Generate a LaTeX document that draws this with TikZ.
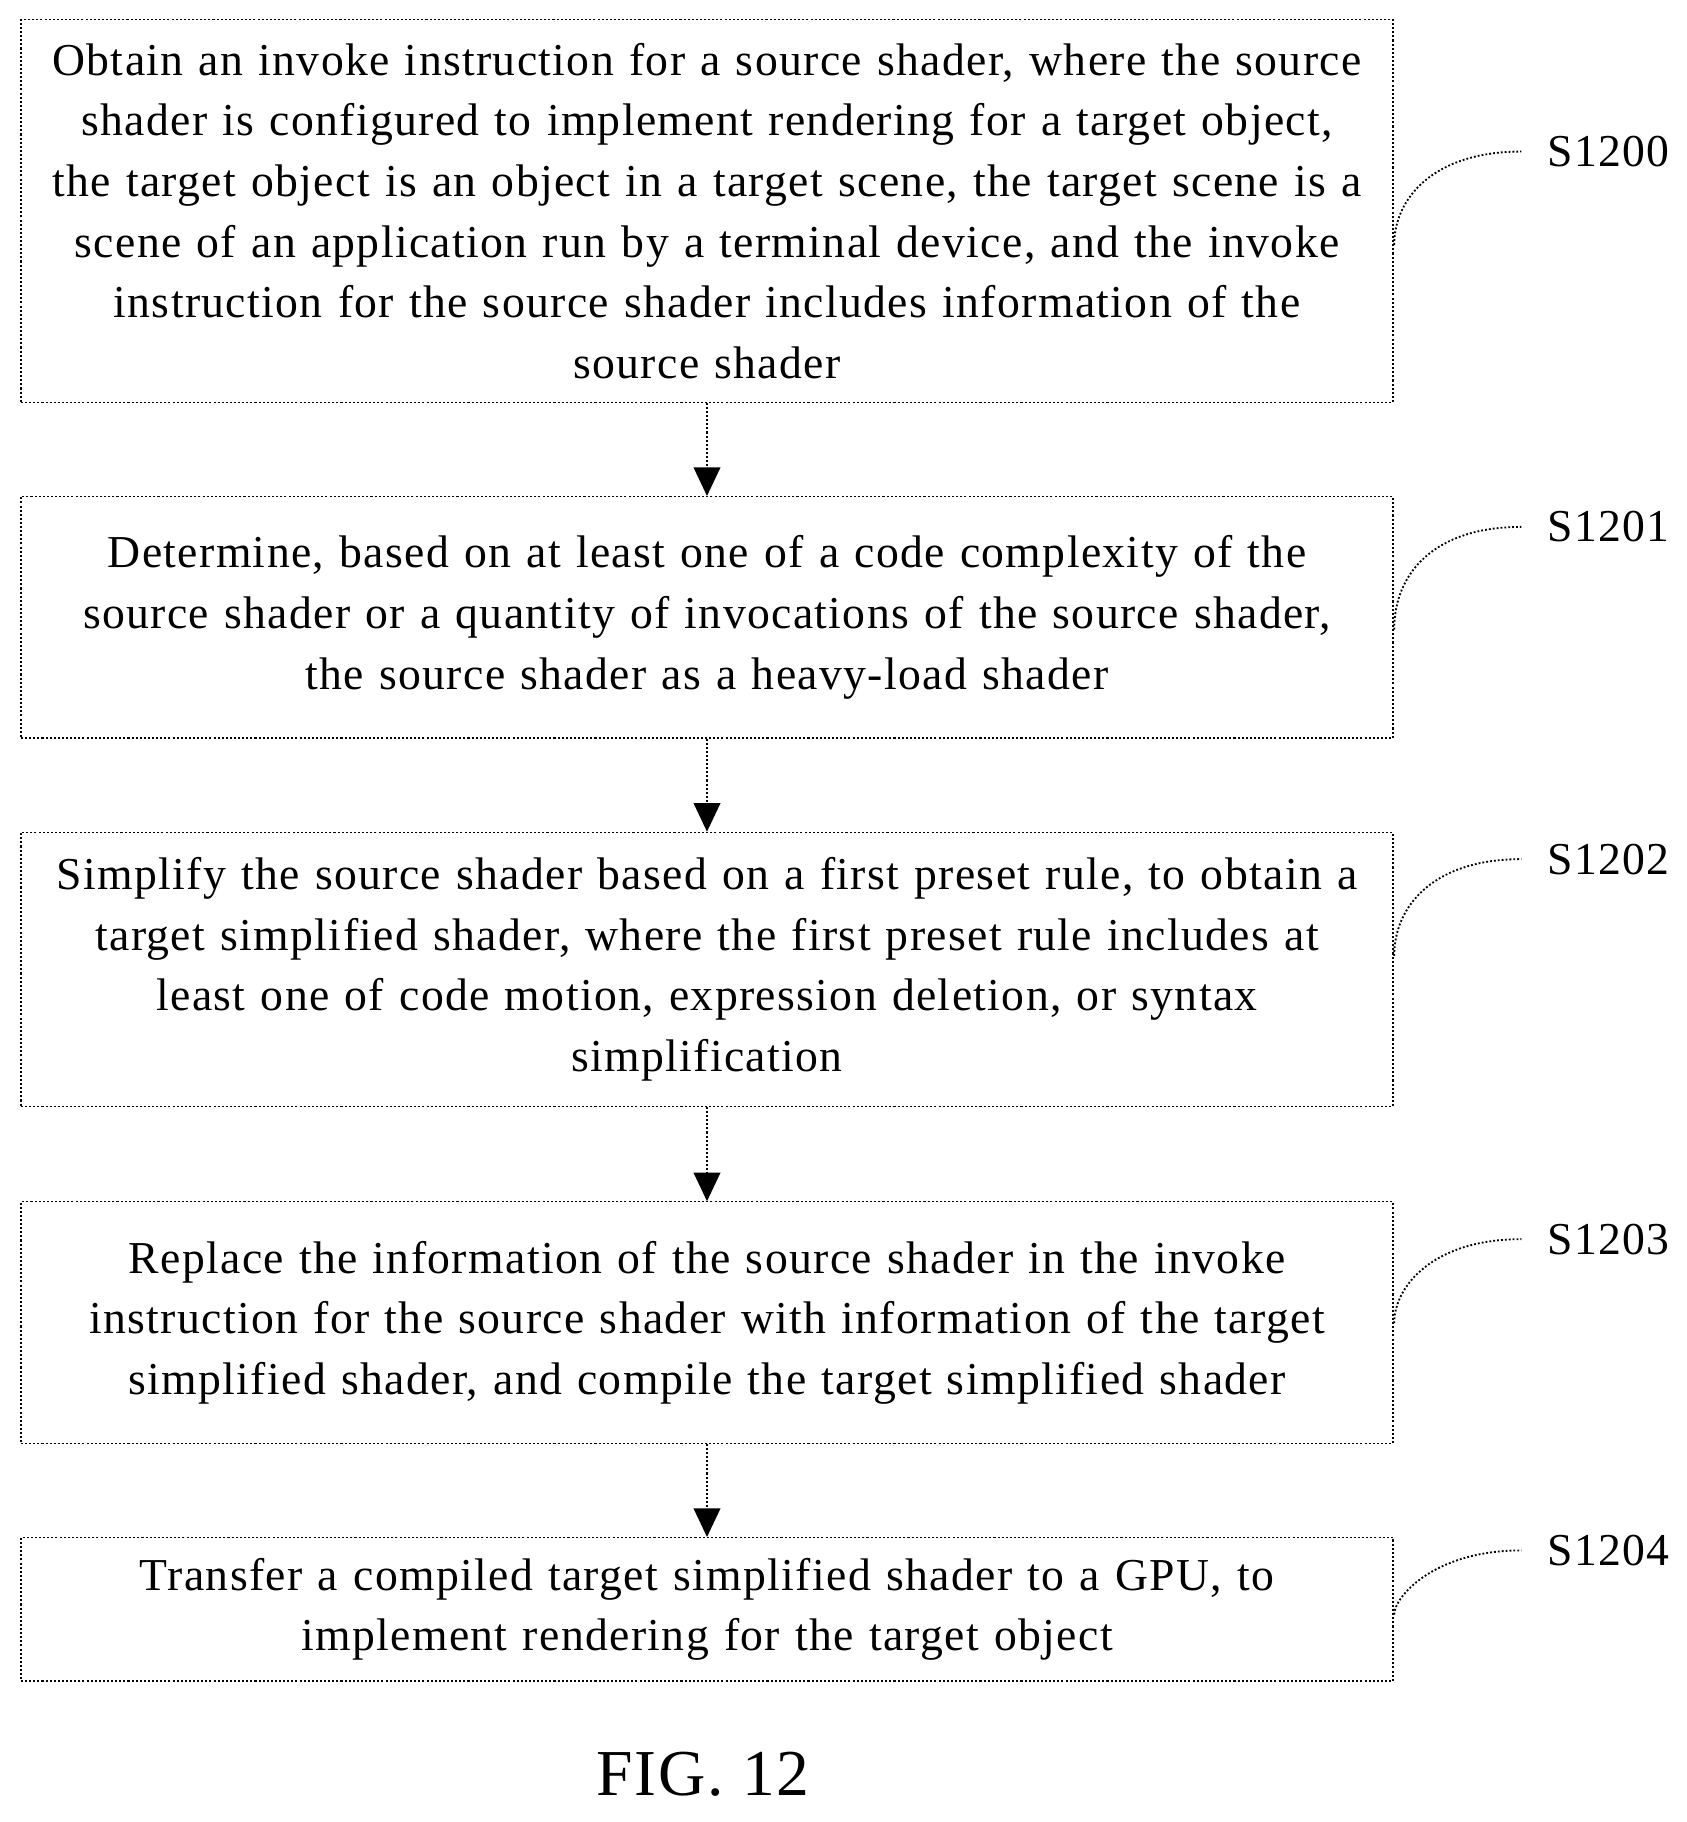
\documentclass[tikz,border=0pt]{standalone}
\usepackage{fontspec}
\setmainfont{Liberation Serif}[LetterSpace=3]
\usetikzlibrary{arrows.meta}
\begin{document}
\begin{tikzpicture}[x=0.02cm,y=-0.02cm,
  stepbox/.style={draw, dash pattern=on 1pt off 1pt, line width=0.6pt, minimum width=1177*0.02cm, text width=1170*0.02cm, align=center, inner sep=0pt, font=\fontsize{22.3}{29.6}\selectfont},
  flow/.style={draw, densely dotted, line width=1pt, -{Triangle[length=14pt,width=13pt]}},
  lbl/.style={font=\fontsize{22.3}{29}\selectfont},
  lead/.style={draw, densely dotted, line width=0.9pt}]
\useasboundingbox (0,0) rectangle (1447,1563);
\node[stepbox, minimum height=328*0.02cm] (a) at (606.5,181) {Obtain an invoke instruction for a source shader, where the source\\ shader is configured to implement rendering for a target object,\\ the target object is an object in a target scene, the target scene is a\\ scene of an application run by a terminal device, and the invoke\\ instruction for the source shader includes information of the\\ source shader};
\node[stepbox, minimum height=207*0.02cm] (b) at (606.5,529.5) {Determine, based on at least one of a code complexity of the\\ source shader or a quantity of invocations of the source shader,\\ the source shader as a heavy-load shader};
\node[stepbox, minimum height=235*0.02cm] (c) at (606.5,831.5) {Simplify the source shader based on a first preset rule, to obtain a\\ target simplified shader, where the first preset rule includes at\\ least one of code motion, expression deletion, or syntax\\ simplification};
\node[stepbox, minimum height=207*0.02cm] (d) at (606.5,1134.5) {Replace the information of the source shader in the invoke\\ instruction for the source shader with information of the target\\ simplified shader, and compile the target simplified shader};
\node[stepbox, minimum height=123*0.02cm] (e) at (606.5,1380.5) {Transfer a compiled target simplified shader to a GPU, to\\ implement rendering for the target object};
\draw[flow] (a) -- (b);
\draw[flow] (b) -- (c);
\draw[flow] (c) -- (d);
\draw[flow] (d) -- (e);
\foreach \n/\t/\y/\ly in {a/S1200/210/130, b/S1201/540/452, c/S1202/820/737, d/S1203/1135/1063, e/S1204/1385/1330}{
  \node[lbl] (l\n) at (1380,\ly) {\t};
  \coordinate (s\n) at (1196,\y);
  \coordinate (t\n) at (1305,\ly);
  \draw[lead] (s\n) .. controls (1196,{\ly+40}) and (1230,\ly) .. (t\n);
}
\node[font=\fontsize{32}{36}\selectfont] (fig) at (603,1522) {FIG. 12};
\end{tikzpicture}
\end{document}
